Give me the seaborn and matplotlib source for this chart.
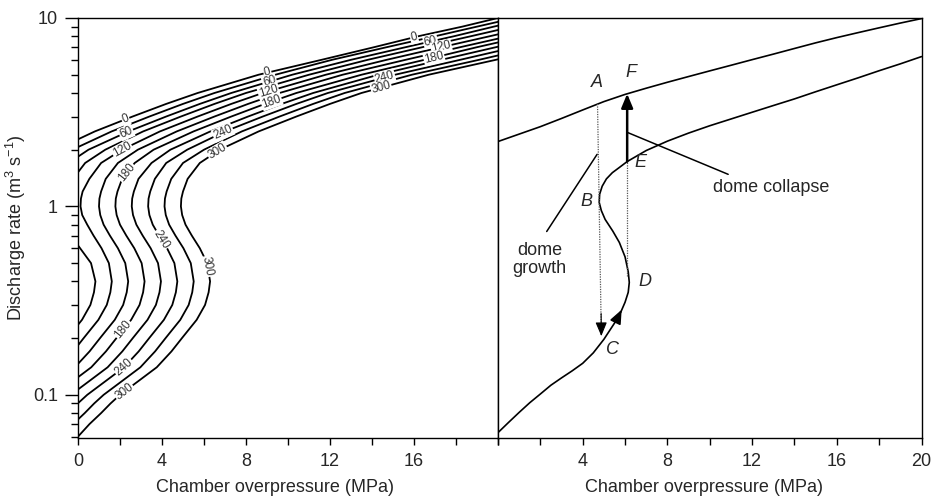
import numpy as np
import pandas as pd
import matplotlib
matplotlib.use("Agg")
import matplotlib.pyplot as plt
from matplotlib.ticker import FixedLocator, NullFormatter
import seaborn as sns

nan = np.nan

discharge = [0.055, 0.06, 0.07, 0.08, 0.09, 0.1, 0.12, 0.14, 0.17, 0.2, 0.25, 0.3,
             0.35, 0.4, 0.5, 0.6, 0.7, 0.8, 0.9, 1.0, 1.1, 1.2, 1.4, 1.7, 2.0,
             2.5, 3.0, 3.5, 4.0, 5.0, 6.0, 7.0, 8.0, 9.0, 10.0]

# chamber overpressure (MPa) of every contour at those discharge levels
p_0 = [nan] * 24 + [-1.05, 0.8, 2.6, 4.2, 5.7, 8.6, 11.6, 14.1, 16.2, 18.3, 20.0]
p_30 = [nan] * 24 + [-0.27, 1.6, 3.4, 5.0, 6.5, 9.4, 12.1, 14.7, 17.0, 19.0, 20.8]
p_60 = [nan] * 23 + [-0.45, 0.5, 2.4, 4.2, 5.8, 7.3, 10.2, 13.0, 15.6, 17.9, 19.8, 21.6]
p_90 = ([nan] * 9 + [-0.51, 0.19, 0.59, 0.76, 0.83, 0.62, 0.1, -0.35]
        + [nan] * 5 + [-0.24, 0.34, 1.3, 3.1, 4.9, 6.5, 8.0, 11.0, 13.8, 16.4, 18.7, 20.7, nan])
p_120 = [nan] * 8 + [-0.23, 0.27, 0.97, 1.37, 1.54, 1.61, 1.47, 1.12, 0.74, 0.44, 0.2,
                     0.12, 0.14, 0.22, 0.54, 1.1, 2.1, 3.9, 5.7, 7.3, 8.8, 11.8,
                     14.7, 17.3, 19.6, 21.6, nan]
p_150 = [nan] * 7 + [-0.15, 0.55, 1.05, 1.75, 2.15, 2.32, 2.39, 2.25, 1.9, 1.52, 1.22,
                     1.06, 1.0, 1.02, 1.1, 1.32, 1.9, 2.85, 4.7, 6.5, 8.1, 9.6, 12.6,
                     15.6, 18.2, 20.5, nan, nan]
p_180 = [nan] * 6 + [-0.17, 0.63, 1.33, 1.83, 2.53, 2.93, 3.1, 3.17, 3.03, 2.68, 2.3,
                     2.0, 1.84, 1.78, 1.8, 1.88, 2.1, 2.7, 3.6, 5.5, 7.3, 8.9, 10.4,
                     13.5, 16.5, 19.0, 21.3, nan, nan]
p_210 = [nan] * 5 + [-0.34, 0.61, 1.41, 2.11, 2.61, 3.31, 3.71, 3.88, 3.95, 3.81, 3.46,
                     3.08, 2.78, 2.62, 2.56, 2.58, 2.66, 2.88, 3.5, 4.4, 6.3, 8.1, 9.7,
                     11.2, 14.3, 17.3, 19.9, 22.2, nan, nan]
p_240 = [nan] * 3 + [-0.46, -0.01, 0.44, 1.39, 2.19, 2.89, 3.39, 4.09, 4.49, 4.66, 4.73,
                     4.59, 4.24, 3.86, 3.56, 3.4, 3.34, 3.36, 3.44, 3.66, 4.2, 5.2, 7.0,
                     8.8, 10.4, 11.9, 15.1, 18.2, 20.8, nan, nan, nan]
p_270 = [nan, nan, -0.23, 0.32, 0.77, 1.22, 2.17, 2.97, 3.67, 4.17, 4.87, 5.27, 5.44,
         5.51, 5.37, 5.02, 4.64, 4.34, 4.18, 4.12, 4.14, 4.22, 4.44, 5.0, 6.0, 7.8,
         9.6, 11.2, 12.7, 15.9, 19.1, 21.7, nan, nan, nan]
p_300 = [-0.4, 0.0, 0.55, 1.1, 1.55, 2.0, 2.95, 3.75, 4.45, 4.95, 5.65, 6.05, 6.22,
         6.29, 6.15, 5.8, 5.42, 5.12, 4.96, 4.9, 4.92, 5.0, 5.22, 5.8, 6.75, 8.6,
         10.4, 12.0, 13.5, 16.7, 19.9, 22.5, nan, nan, nan]

contours = {0: p_0, 30: p_30, 60: p_60, 90: p_90, 120: p_120, 150: p_150,
            180: p_180, 210: p_210, 240: p_240, 270: p_270, 300: p_300}

# contour labels: (level, discharge where the label sits)
label_spots = [(0, 2.9), (0, 5.13), (0, 7.9),
               (60, 2.47), (60, 4.6), (60, 7.5),
               (120, 2.0), (120, 4.08), (120, 7.0),
               (180, 1.51), (180, 3.6), (180, 6.17), (180, 0.222),
               (240, 2.47), (240, 4.83), (240, 0.668), (240, 0.14),
               (300, 1.96), (300, 4.27), (300, 0.48), (300, 0.104)]

# right panel: the two curves of the schematic cycle
upper_p = [0, 1, 2, 3, 4, 5, 6, 7, 8, 9, 10, 11, 12, 13, 14, 15, 16, 17, 18, 19, 20]
upper_q = [2.21, 2.42, 2.65, 2.93, 3.25, 3.60, 3.93, 4.24, 4.56, 4.89, 5.24, 5.61,
           6.01, 6.43, 6.89, 7.38, 7.87, 8.36, 8.87, 9.40, 9.93]
lower_p = [0.0, 0.5, 1.0, 1.5, 2.0, 2.5, 3.0, 3.5, 4.0, 4.5, 5.0, 5.5, 5.8, 6.0, 6.15,
           6.2, 6.15, 6.0, 5.73, 5.42, 5.06, 4.88, 4.78, 4.8, 4.92, 5.12, 5.4, 5.7,
           6.1, 7, 8, 9, 10, 11, 12, 13, 14, 15, 16, 17, 18, 19, 20]
lower_q = [0.063, 0.0714, 0.0807, 0.0908, 0.101, 0.1125, 0.123, 0.134, 0.147, 0.167,
           0.197, 0.24, 0.275, 0.31, 0.35, 0.395, 0.45, 0.54, 0.644, 0.74, 0.853, 0.95,
           1.05, 1.16, 1.28, 1.4, 1.51, 1.6, 1.73, 1.98, 2.22, 2.45, 2.68, 2.91, 3.16,
           3.43, 3.72, 4.06, 4.42, 4.81, 5.25, 5.71, 6.24]

# growth jump A -> C and collapse jump D -> E -> F
growth_p = [4.7, 4.88]
growth_q = [3.5, 0.205]
collapse_p = 6.1
collapse_q = [0.425, 1.73, 3.96]

point_labels = {"A": (4.68, 4.55), "F": (6.3, 5.14), "E": (6.73, 1.71),
                "B": (4.2, 1.06), "D": (6.92, 0.40), "C": (5.4, 0.174)}

sns.set_theme(style="ticks")
plt.rcParams["font.family"] = ["Liberation Sans", "DejaVu Sans"]
plt.rcParams["mathtext.fontset"] = "custom"
plt.rcParams["mathtext.rm"] = "Liberation Sans"
plt.rcParams["mathtext.it"] = "Liberation Sans:italic"
plt.rcParams["axes.linewidth"] = 1.0
plt.rcParams["axes.edgecolor"] = "black"

fig = plt.figure(figsize=(9.32, 4.98), dpi=100)
ax1 = fig.add_axes([78 / 932, 60 / 498, 420 / 932, 420 / 498])
ax2 = fig.add_axes([498 / 932, 60 / 498, 423.5 / 932, 420 / 498])

rows = []
for lev, pv in contours.items():
    for q, p in zip(discharge, pv):
        if not np.isnan(p):
            rows.append({"level": lev, "P": p, "Q": q})
df = pd.DataFrame(rows)

sns.lineplot(data=df, x="P", y="Q", units="level", estimator=None, sort=False,
             color="black", lw=1.3, ax=ax1)

df_up = pd.DataFrame({"P": upper_p, "Q": upper_q})
df_low = pd.DataFrame({"P": lower_p, "Q": lower_q})
sns.lineplot(data=df_up, x="P", y="Q", sort=False, estimator=None, color="black", lw=1.2, ax=ax2)
sns.lineplot(data=df_low, x="P", y="Q", sort=False, estimator=None, color="black", lw=1.2, ax=ax2)

for ax in (ax1, ax2):
    ax.set_yscale("log")
    ax.set_ylim(0.059, 10)
    ax.set_xlim(0, 20)
    for s in ax.spines.values():
        s.set_visible(True)
        s.set_color("black")
    ax.tick_params(axis="x", which="both", direction="out", length=5, width=1.0,
                   labelsize=13, pad=6, color="black")

ax1.xaxis.set_major_locator(FixedLocator([0, 4, 8, 12, 16]))
ax1.xaxis.set_minor_locator(FixedLocator([2, 6, 10, 14, 18, 20]))
ax2.xaxis.set_major_locator(FixedLocator([4, 8, 12, 16, 20]))
ax2.xaxis.set_minor_locator(FixedLocator([0, 2, 6, 10, 14, 18]))
ax1.set_xticklabels(["0", "4", "8", "12", "16"])
ax2.set_xticklabels(["4", "8", "12", "16", "20"])

ax1.yaxis.set_major_locator(FixedLocator([0.1, 1, 10]))
ax1.set_yticklabels(["0.1", "1", "10"])
ax1.yaxis.set_minor_locator(FixedLocator([0.06, 0.07, 0.08, 0.09, 0.2, 0.3, 0.4, 0.5, 0.6,
                                          0.7, 0.8, 0.9, 2, 3, 4, 5, 6, 7, 8, 9]))
ax1.yaxis.set_minor_formatter(NullFormatter())
ax1.tick_params(axis="y", which="major", direction="out", length=9.5, width=1.0,
                labelsize=13, pad=5, color="black")
ax1.tick_params(axis="y", which="minor", direction="out", length=5, width=1.0, color="black")
ax2.tick_params(axis="y", which="both", left=False, labelleft=False)

ax1.set_xlabel("Chamber overpressure (MPa)", fontsize=13)
ax2.set_xlabel("Chamber overpressure (MPa)", fontsize=13)
ax1.xaxis.set_label_coords(0.469, -0.119)
ax2.xaxis.set_label_coords(0.486, -0.119)
ax1.xaxis.label.set_va("center")
ax2.xaxis.label.set_va("center")
ax2.set_ylabel("")
ax1.set_ylabel("Discharge rate (m$^3$ s$^{-1}$)", fontsize=13)
ax1.yaxis.set_label_coords(-0.148, 0.5)
ax1.yaxis.label.set_va("center")

# inline contour labels, turned along the line
logq = np.log10(discharge)
for lev, q in label_spots:
    pv = np.array(contours[lev], dtype=float)
    ok = ~np.isnan(pv)
    lq = np.log10(q)
    p_mid = np.interp(lq, logq[ok], pv[ok])
    p_a = np.interp(lq - 0.02, logq[ok], pv[ok])
    p_b = np.interp(lq + 0.02, logq[ok], pv[ok])
    xa, ya = ax1.transData.transform((p_a, 10 ** (lq - 0.02)))
    xb, yb = ax1.transData.transform((p_b, 10 ** (lq + 0.02)))
    ang = np.degrees(np.arctan2(yb - ya, xb - xa))
    if ang > 90:
        ang -= 180
    if ang < -90:
        ang += 180
    ax1.text(p_mid, q, str(lev), rotation=ang, rotation_mode="anchor", ha="center",
             va="center", fontsize=8.5, color="#333333", zorder=5,
             bbox=dict(fc="white", ec="none", pad=0.5))

# right panel: jumps, arrows, annotations
dot = (0, (1, 1))
ax2.plot(growth_p, growth_q, color="#555555", lw=0.9, ls=dot)
ax2.plot([collapse_p, collapse_p], collapse_q[:2], color="#555555", lw=0.9, ls=dot)
head = "-|>,head_length=0.6,head_width=0.25"
ax2.annotate("", xy=(growth_p[1], growth_q[1]), xytext=(growth_p[1] - 0.01, 0.27),
             arrowprops=dict(arrowstyle=head, color="black", lw=0.8,
                             mutation_scale=14, shrinkA=0, shrinkB=0))
ax2.annotate("", xy=(collapse_p, collapse_q[2]), xytext=(collapse_p, collapse_q[1]),
             arrowprops=dict(arrowstyle=head, color="black", lw=1.8,
                             mutation_scale=14, shrinkA=0, shrinkB=0))
ax2.annotate("", xy=(5.84, 0.283), xytext=(5.55, 0.243),
             arrowprops=dict(arrowstyle=head, color="black", lw=1.2,
                             mutation_scale=14, shrinkA=0, shrinkB=0))

ax2.plot([6.11, 10.87], [2.47, 1.48], color="black", lw=1.1)
ax2.text(10.16, 1.26, "dome collapse", fontsize=13, ha="left", va="center")
ax2.plot([4.68, 2.3], [1.89, 0.736], color="black", lw=1.1)
ax2.text(1.97, 0.524, "dome\ngrowth", fontsize=13, ha="center", va="center",
         linespacing=1.1)

for name, (px, qy) in point_labels.items():
    ax2.text(px, qy, name, fontsize=13, style="italic", ha="center", va="center")

fig.savefig("out.png", dpi=100)
